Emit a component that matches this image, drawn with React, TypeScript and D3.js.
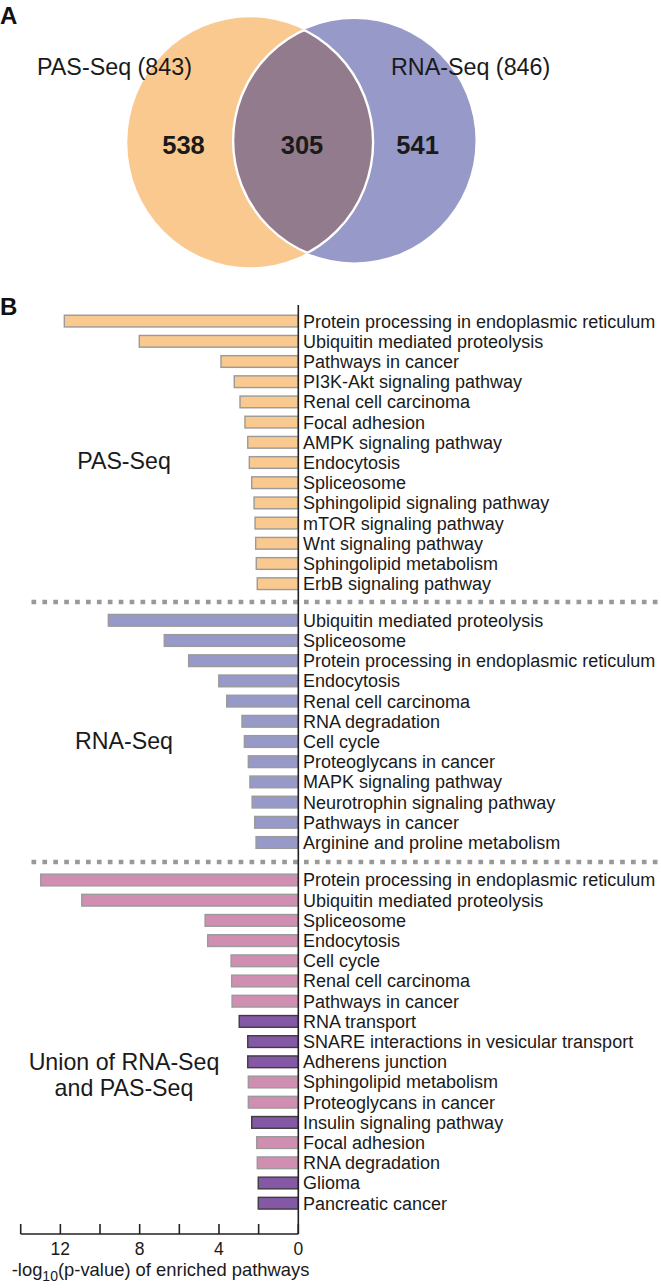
import React from 'react';
import * as d3 from 'd3';

// Venn counts
const vennSets = ['PAS-Seq (843)', 'RNA-Seq (846)'];
const vennCounts = [538, 305, 541];

// Enrichment groups
const pasPathways = [
  'Protein processing in endoplasmic reticulum',
  'Ubiquitin mediated proteolysis',
  'Pathways in cancer',
  'PI3K-Akt signaling pathway',
  'Renal cell carcinoma',
  'Focal adhesion',
  'AMPK signaling pathway',
  'Endocytosis',
  'Spliceosome',
  'Sphingolipid signaling pathway',
  'mTOR signaling pathway',
  'Wnt signaling pathway',
  'Sphingolipid metabolism',
  'ErbB signaling pathway',
];
const pasValues = [11.8, 8.02, 3.9, 3.23, 2.94, 2.69, 2.55, 2.47, 2.35, 2.23, 2.18, 2.15, 2.12, 2.07];

const rnaPathways = [
  'Ubiquitin mediated proteolysis',
  'Spliceosome',
  'Protein processing in endoplasmic reticulum',
  'Endocytosis',
  'Renal cell carcinoma',
  'RNA degradation',
  'Cell cycle',
  'Proteoglycans in cancer',
  'MAPK signaling pathway',
  'Neurotrophin signaling pathway',
  'Pathways in cancer',
  'Arginine and proline metabolism',
];
const rnaValues = [9.58, 6.76, 5.53, 4.01, 3.61, 2.84, 2.72, 2.52, 2.44, 2.33, 2.2, 2.13];

const unionPathways = [
  'Protein processing in endoplasmic reticulum',
  'Ubiquitin mediated proteolysis',
  'Spliceosome',
  'Endocytosis',
  'Cell cycle',
  'Renal cell carcinoma',
  'Pathways in cancer',
  'RNA transport',
  'SNARE interactions in vesicular transport',
  'Adherens junction',
  'Sphingolipid metabolism',
  'Proteoglycans in cancer',
  'Insulin signaling pathway',
  'Focal adhesion',
  'RNA degradation',
  'Glioma',
  'Pancreatic cancer',
];
const unionValues = [12.99, 10.92, 4.7, 4.57, 3.39, 3.36, 3.34, 2.98, 2.55, 2.55, 2.52, 2.52, 2.35, 2.1, 2.07, 2.02, 2.02];
// pathways only found in the union analysis
const unionOnly = ['RNA transport', 'SNARE interactions in vesicular transport', 'Adherens junction', 'Insulin signaling pathway', 'Glioma', 'Pancreatic cancer'];

const xTicks = [14, 12, 10, 8, 6, 4, 2, 0];
const xTickLabels = [12, 8, 4, 0];

const FONT = '"Liberation Sans", Arial, Helvetica, sans-serif';
const STEP = 20.2;

const groups = [
  { name: ['PAS-Seq'], labels: pasPathways, values: pasValues, top: 311, color: '#f9c98f', labelY: [469] },
  { name: ['RNA-Seq'], labels: rnaPathways, values: rnaValues, top: 610.2, color: '#9799c8', labelY: [749] },
  { name: ['Union of RNA-Seq', 'and PAS-Seq'], labels: unionPathways, values: unionValues, top: 869.9, color: '#d08eb1', labelY: [1070, 1096] },
];

export default function App() {
  const x = d3.scaleLinear().domain([0, 14]).range([298.3, 20.7]);

  // Venn ellipses
  const L = { cx: 250.2, cy: 142.3, rx: 122.9, ry: 125 };
  const R = { cx: 354.3, cy: 140.7, rx: 121.2, ry: 121.7 };
  const countX = [183.5, 302, 417.6];

  return (
    <svg width={661} height={1288} style={{ position: 'absolute', left: 0, top: 0 }} fontFamily={FONT}>
      <defs>
        <clipPath id="clipL">
          <ellipse cx={L.cx} cy={L.cy} rx={L.rx} ry={L.ry} />
        </clipPath>
        <clipPath id="clipR">
          <ellipse cx={R.cx} cy={R.cy} rx={R.rx} ry={R.ry} />
        </clipPath>
      </defs>

      {/* Panel A */}
      <text x={0} y={24} fontSize={24} fontWeight="bold" fill="#111">A</text>
      <ellipse cx={L.cx} cy={L.cy} rx={L.rx} ry={L.ry} fill="#f9c98f" />
      <ellipse cx={R.cx} cy={R.cy} rx={R.rx} ry={R.ry} fill="#9799c8" />
      <g clipPath="url(#clipL)">
        <ellipse cx={R.cx} cy={R.cy} rx={R.rx} ry={R.ry} fill="#937b8e" stroke="#fff" strokeWidth={2.4} />
      </g>
      <g clipPath="url(#clipR)">
        <ellipse cx={L.cx} cy={L.cy} rx={L.rx} ry={L.ry} fill="none" stroke="#fff" strokeWidth={2.4} />
      </g>
      <text x={37} y={75} fontSize={23.3} fill="#1a1a1a">{vennSets[0]}</text>
      <text x={391} y={75} fontSize={23.3} fill="#1a1a1a">{vennSets[1]}</text>
      {vennCounts.map((c, i) => (
        <text key={i} x={countX[i]} y={153.5} textAnchor="middle" fontSize={25.5} fontWeight="bold" fill="#1a1a1a">{c}</text>
      ))}

      {/* Panel B */}
      <text x={0} y={315} fontSize={24} fontWeight="bold" fill="#111">B</text>

      {groups.map((g, gi) => {
        const y = d3.scaleBand<number>()
          .domain(d3.range(g.labels.length))
          .range([g.top, g.top + g.labels.length * STEP])
          .paddingInner(0.42)
          .paddingOuter(0.21);
        return (
          <g key={gi}>
            {g.values.map((v, i) => {
              const special = gi === 2 && unionOnly.includes(g.labels[i]);
              return (
                <rect key={i} x={x(v)} y={y(i)} width={x(0) - x(v)} height={y.bandwidth()}
                  fill={special ? '#8558a6' : g.color}
                  stroke={special ? '#3d3d3d' : '#9a9a9a'} strokeWidth={1.4} />
              );
            })}
            {g.labels.map((l, i) => (
              <text key={i} x={303} y={(y(i) as number) + y.bandwidth() / 2} dy="0.36em" fontSize={18} fill="#1a1a1a">{l}</text>
            ))}
            {g.name.map((n, k) => (
              <text key={k} x={124} y={g.labelY[k]} textAnchor="middle" fontSize={23.2} fill="#1a1a1a">{n}</text>
            ))}
          </g>
        );
      })}

      {/* dotted separators */}
      {[602, 862].map((yy) => (
        <line key={yy} x1={31.5} x2={661} y1={yy} y2={yy} stroke="#999" strokeWidth={4.6} strokeDasharray="4.7 6.2" />
      ))}

      {/* vertical axis line */}
      <line x1={x(0)} x2={x(0)} y1={305} y2={1234} stroke="#222" strokeWidth={1.6} />

      {/* x axis */}
      <line x1={x(14)} x2={x(0)} y1={1234} y2={1234} stroke="#222" strokeWidth={1.6} />
      {xTicks.map((t) => (
        <line key={t} x1={x(t)} x2={x(t)} y1={1234} y2={1224} stroke="#222" strokeWidth={1.6} />
      ))}
      {xTickLabels.map((t) => (
        <text key={t} x={x(t)} y={1255} textAnchor="middle" fontSize={17.5} fill="#1a1a1a">{t}</text>
      ))}
      <text x={11.7} y={1276} fontSize={18.4} fill="#1a1a1a">
        -log<tspan fontSize={14} dy={5}>10</tspan><tspan dy={-5}>(p-value) of enriched pathways</tspan>
      </text>
    </svg>
  );
}
